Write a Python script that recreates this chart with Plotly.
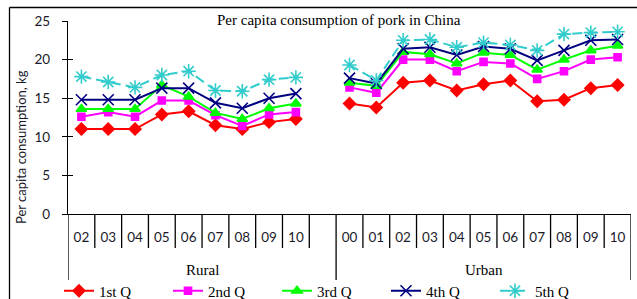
import plotly.graph_objects as go

# ---- data ----
rural_years = ["02", "03", "04", "05", "06", "07", "08", "09", "10"]
urban_years = ["00", "01", "02", "03", "04", "05", "06", "07", "08", "09", "10"]
groups = ["Rural", "Urban"]
series_names = ["1st Q", "2nd Q", "3rd Q", "4th Q", "5th Q"]

rural_q1 = [11.0, 11.0, 11.0, 12.9, 13.3, 11.5, 11.0, 11.9, 12.3]
rural_q2 = [12.6, 13.2, 12.6, 14.7, 14.7, 12.8, 11.4, 12.9, 13.2]
rural_q3 = [13.6, 13.6, 13.6, 16.7, 15.2, 13.1, 12.3, 13.7, 14.3]
rural_q4 = [14.8, 14.8, 14.8, 16.3, 16.3, 14.4, 13.7, 15.0, 15.6]
rural_q5 = [17.8, 17.1, 16.4, 18.0, 18.5, 16.0, 15.9, 17.4, 17.7]

urban_q1 = [14.3, 13.8, 17.0, 17.3, 16.0, 16.8, 17.3, 14.6, 14.8, 16.3, 16.7]
urban_q2 = [16.4, 15.7, 20.0, 20.0, 18.5, 19.7, 19.5, 17.5, 18.5, 20.0, 20.3]
urban_q3 = [17.0, 16.6, 21.0, 20.7, 19.5, 20.9, 20.6, 18.7, 20.0, 21.2, 21.8]
urban_q4 = [17.6, 16.9, 21.4, 21.6, 20.6, 21.7, 21.4, 19.9, 21.2, 22.5, 22.6]
urban_q5 = [19.3, 17.3, 22.5, 22.6, 21.6, 22.2, 21.9, 21.2, 23.3, 23.5, 23.6]

rural = [rural_q1, rural_q2, rural_q3, rural_q4, rural_q5]
urban = [urban_q1, urban_q2, urban_q3, urban_q4, urban_q5]

# ---- styles ----
colors = ["#FF0000", "#FF00FF", "#00FF00", "#000080", "#33CCCC"]
symbols = ["diamond", "square", "triangle-up", "x-thin-open", "asterisk-open"]
msizes = [9, 7, 9, 11, 12]
dashes = ["solid", "solid", "solid", "solid", "10px,5px"]

SERIF = "Liberation Serif"
SANS = "Lato"

# category slots: rural years, one blank slot, urban years
n_r = len(rural_years)
blank_pos = n_r
urban_start = n_r + 1
positions = list(range(n_r)) + [blank_pos] + list(range(urban_start, urban_start + len(urban_years)))
labels = rural_years + [""] + urban_years
n_slots = len(positions)

fig = go.Figure()
for i, name in enumerate(series_names):
    yvals = rural[i] + [None] + urban[i]
    fig.add_trace(go.Scatter(
        x=positions, y=yvals, name=name, mode="lines+markers",
        connectgaps=False,
        line=dict(color=colors[i], width=2, dash=dashes[i]),
        marker=dict(symbol=symbols[i], size=msizes[i], color=colors[i],
                    line=dict(color=colors[i], width=1.6)),
    ))

# plot-area geometry in pixels (for paper conversion)
W, H = 637, 299
L, R, T, B = 68, 6, 21, 85
pw, ph = W - L - R, H - T - B

def px_x(p):
    return (p - L) / pw

def px_y(p):
    return (H - B - p) / ph

shapes = []
# separators below the axis
long_bounds = {-0.5, blank_pos + 0.5, n_slots - 0.5}
for k in range(n_slots + 1):
    b = k - 0.5
    y1 = px_y(280) if b in long_bounds else px_y(248)
    shapes.append(dict(type="line", xref="x", yref="paper", x0=b, x1=b,
                       y0=0, y1=y1, line=dict(color="black", width=1.3)))
# outer frame (left and top edges visible)
frame = dict(color="black", width=1.3)
shapes.append(dict(type="line", xref="paper", yref="paper",
                   x0=px_x(9.5), x1=px_x(9.5), y0=px_y(305), y1=px_y(7.5), line=frame))
shapes.append(dict(type="line", xref="paper", yref="paper",
                   x0=px_x(9.5), x1=px_x(645), y0=px_y(7.5), y1=px_y(7.5), line=frame))

annotations = [
    dict(text="Per capita consumption of pork in China", xref="paper", yref="paper",
         x=px_x(339), y=px_y(20), showarrow=False, xanchor="center", yanchor="middle",
         font=dict(family=SERIF, size=15, color="black")),
    dict(text="Per capita consumption, kg", xref="paper", yref="paper",
         x=px_x(21), y=px_y(147), showarrow=False, textangle=-90,
         xanchor="center", yanchor="middle",
         font=dict(family=SANS, size=13, color="#1a1a2a")),
]
# group labels
group_centers = [(-0.5 + blank_pos + 0.5) / 2, (blank_pos + 0.5 + n_slots - 0.5) / 2]
for g, c in zip(groups, group_centers):
    annotations.append(dict(text=g, xref="x", yref="paper", x=c, y=px_y(270),
                            showarrow=False, xanchor="center", yanchor="middle",
                            font=dict(family=SERIF, size=15, color="black")))

fig.update_layout(
    width=W, height=H,
    margin=dict(l=L, r=R, t=T, b=B, pad=0, autoexpand=False),
    paper_bgcolor="white", plot_bgcolor="white",
    showlegend=True,
    legend=dict(orientation="h", x=px_x(59), xanchor="left", y=px_y(291),
                yanchor="middle", font=dict(family=SERIF, size=15, color="black"),
                entrywidth=64, entrywidthmode="pixels", itemwidth=30,
                bgcolor="rgba(0,0,0,0)", tracegroupgap=0),
    xaxis=dict(range=[-0.5, n_slots - 0.5], tickmode="array", tickvals=positions,
               ticktext=labels, ticks="", showgrid=False, zeroline=False,
               showline=True, linecolor="black", linewidth=1.3,
               ticklabelstandoff=11,
               tickfont=dict(family=SANS, size=13.5, color="#1a1a2a")),
    yaxis=dict(range=[0, 25], dtick=5, ticks="outside", ticklen=5, tickwidth=1.3,
               tickcolor="black", showgrid=False, zeroline=False, showline=True,
               linecolor="black", linewidth=1.3, ticklabelstandoff=9,
               tickfont=dict(family=SANS, size=13.5, color="#1a1a2a")),
    yaxis2=dict(range=[0, 25], dtick=5, ticks="inside", ticklen=5, tickwidth=1.3,
                tickcolor="black", overlaying="y", side="left", anchor="x",
                showticklabels=False, showgrid=False, zeroline=False, showline=False),
    shapes=shapes,
    annotations=annotations,
)
# invisible trace so the overlaid axis (cross tick marks) is drawn
fig.add_trace(go.Scatter(x=[None], y=[None], yaxis="y2", showlegend=False, hoverinfo="skip"))

fig.write_html("out.html",
               config={"displayModeBar": False},
               post_script="document.body.style.margin='0px';document.body.style.overflow='hidden';")
